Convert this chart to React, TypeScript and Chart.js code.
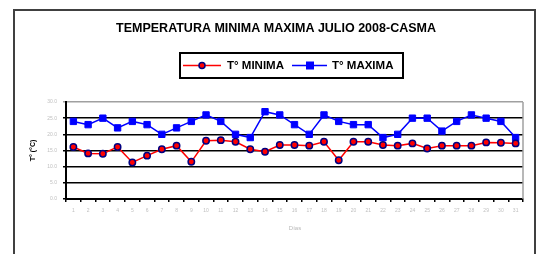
import React, { useEffect, useRef } from "react";
import { Chart, registerables } from "chart.js";

Chart.register(...registerables);

const days = Array.from({ length: 31 }, (_, i) => String(i + 1));
const tMinima = [16.1, 14.1, 14.0, 16.1, 11.3, 13.4, 15.4, 16.5, 11.5, 18.0, 18.2, 17.7, 15.4, 14.6, 16.7, 16.7, 16.5, 17.7, 12.0, 17.7, 17.7, 16.7, 16.5, 17.2, 15.6, 16.5, 16.5, 16.5, 17.5, 17.4, 17.2];
const tMaxima = [24, 23, 25, 22, 24, 23, 20, 22, 24, 26, 24, 20, 19, 27, 26, 23, 20, 26, 24, 23, 23, 19, 20, 25, 25, 21, 24, 26, 25, 24, 19];

const titleText = "TEMPERATURA MINIMA MAXIMA JULIO 2008-CASMA";
const legendLabels = ["T° MINIMA", "T° MAXIMA"];
const yTitle = "T° (°C)";
const xTitle = "Días";

const decorPlugin = {
  id: "decor",
  beforeDraw(chart: any) {
    const ctx = chart.ctx;
    ctx.save();
    ctx.fillStyle = "#ffffff";
    ctx.fillRect(0, 0, chart.width, chart.height);
    // outer frame
    ctx.strokeStyle = "#404040";
    ctx.lineWidth = 2;
    ctx.beginPath();
    ctx.moveTo(14, 260);
    ctx.lineTo(14, 10);
    ctx.lineTo(535, 10);
    ctx.lineTo(535, 260);
    ctx.stroke();
    ctx.restore();
  },
  afterDraw(chart: any) {
    const ctx = chart.ctx;
    const a = chart.chartArea;
    ctx.save();
    // plot area right border
    ctx.strokeStyle = "#a0a0a0";
    ctx.lineWidth = 1.5;
    ctx.beginPath();
    ctx.moveTo(a.right, a.top);
    ctx.lineTo(a.right, a.bottom);
    ctx.stroke();

    // title
    ctx.fillStyle = "#000";
    ctx.font = "bold 12.5px 'Liberation Sans', Arial, sans-serif";
    ctx.textAlign = "center";
    ctx.textBaseline = "middle";
    ctx.fillText(titleText, 276, 29);

    // legend box
    ctx.strokeStyle = "#000";
    ctx.lineWidth = 2;
    ctx.strokeRect(180, 53, 223, 25);
    const ly = 65.5;
    // series 1
    ctx.strokeStyle = "#ff0000";
    ctx.lineWidth = 1.5;
    ctx.beginPath();
    ctx.moveTo(183, ly);
    ctx.lineTo(221, ly);
    ctx.stroke();
    ctx.fillStyle = "#ff0000";
    ctx.strokeStyle = "#000080";
    ctx.beginPath();
    ctx.arc(202, ly, 3, 0, Math.PI * 2);
    ctx.fill();
    ctx.stroke();
    // series 2
    ctx.strokeStyle = "#0000ff";
    ctx.beginPath();
    ctx.moveTo(292, ly);
    ctx.lineTo(327, ly);
    ctx.stroke();
    ctx.fillStyle = "#0000ff";
    ctx.fillRect(306, ly - 4, 8, 8);
    ctx.fillStyle = "#000";
    ctx.font = "bold 11.5px 'Liberation Sans', Arial, sans-serif";
    ctx.textAlign = "left";
    ctx.fillText(legendLabels[0], 227, ly);
    ctx.fillText(legendLabels[1], 332, ly);

    // y title
    ctx.save();
    ctx.translate(33, (a.top + a.bottom) / 2);
    ctx.rotate(-Math.PI / 2);
    ctx.font = "bold 7px 'Liberation Sans', Arial, sans-serif";
    ctx.textAlign = "center";
    ctx.fillText(yTitle, 0, 0);
    ctx.restore();

    // x title
    ctx.fillStyle = "#b8b8b8";
    ctx.font = "6px 'Liberation Sans', Arial, sans-serif";
    ctx.textAlign = "center";
    ctx.fillText(xTitle, 295, 228);
    ctx.restore();
  },
};

export default function App() {
  const ref = useRef<HTMLCanvasElement>(null);
  useEffect(() => {
    if (!ref.current) return;
    const chart = new Chart(ref.current, {
      type: "line",
      data: {
        labels: days,
        datasets: [
          {
            label: legendLabels[0],
            data: tMinima,
            borderColor: "#ff0000",
            borderWidth: 1.5,
            pointStyle: "circle",
            pointRadius: 3.2,
            pointBackgroundColor: "#ff0000",
            pointBorderColor: "#000080",
            pointBorderWidth: 1.5,
            tension: 0,
          },
          {
            label: legendLabels[1],
            data: tMaxima,
            borderColor: "#0000ff",
            borderWidth: 1.5,
            pointStyle: "rect",
            pointRadius: 4.5,
            pointBackgroundColor: "#0000ff",
            pointBorderColor: "#0000ff",
            pointBorderWidth: 1,
            tension: 0,
          },
        ],
      },
      plugins: [decorPlugin],
      options: {
        animation: false,
        responsive: false,
        layout: { padding: { left: 0, right: 23, top: 102, bottom: 35 } },
        plugins: { legend: { display: false }, title: { display: false }, tooltip: { enabled: false } },
        scales: {
          x: {
            offset: true,
            afterFit: (s: any) => {
              s.height = 20;
            },
            grid: { offset: true, drawOnChartArea: false, tickLength: 3, color: "#000", lineWidth: 1.5 },
            border: { color: "#000", width: 2 },
            ticks: { color: "#c0c0c0", font: { size: 5, family: "'Liberation Sans', Arial" }, maxRotation: 0, autoSkip: false, padding: 6 },
          },
          y: {
            min: 0,
            max: 30,
            afterFit: (s: any) => {
              s.width = 66;
            },
            grid: {
              tickLength: 3,
              color: (c: any) => (c.tick && c.tick.value === 30 ? "#a0a0a0" : "#000"),
              lineWidth: 1.5,
            },
            border: { color: "#000", width: 2 },
            ticks: {
              stepSize: 5,
              color: "#c0c0c0",
              font: { size: 5, family: "'Liberation Sans', Arial" },
              padding: 6,
              callback: (v: any) => Number(v).toFixed(1),
            },
          },
        },
      },
    });
    return () => chart.destroy();
  }, []);
  return (
    <div style={{ position: "absolute", left: 0, top: 0, width: 546, height: 254, background: "#fff" }}>
      <canvas ref={ref} width={546} height={254} />
    </div>
  );
}
